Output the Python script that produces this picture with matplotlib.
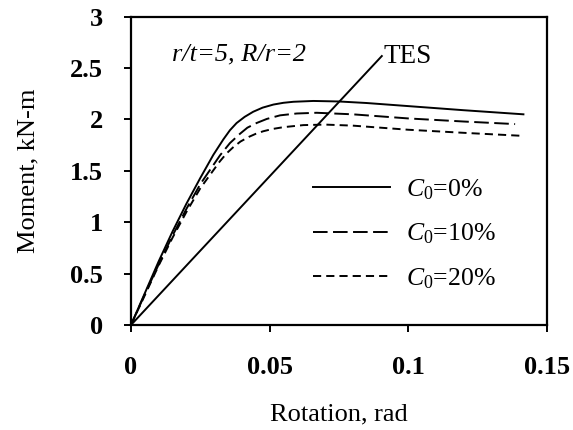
import matplotlib
matplotlib.use('Agg')
import matplotlib.pyplot as plt

plt.rcParams['font.family'] = 'Liberation Serif'
plt.rcParams['mathtext.fontset'] = 'custom'
plt.rcParams['mathtext.rm'] = 'Liberation Serif'
plt.rcParams['mathtext.it'] = 'Liberation Serif:italic'

# rotation (rad) and moment (kN-m)
rot_0 = [0, 0.005, 0.01, 0.015, 0.02, 0.025, 0.0297, 0.0333, 0.0357, 0.0381, 0.041, 0.0441,
         0.0475, 0.0514, 0.055, 0.0586, 0.0658, 0.075, 0.085, 0.1, 0.12, 0.1416]
mom_0 = [0, 0.31, 0.62, 0.91, 1.18, 1.43, 1.655, 1.805, 1.895, 1.965, 2.025, 2.075,
         2.115, 2.145, 2.162, 2.172, 2.18, 2.175, 2.16, 2.13, 2.09, 2.05]

rot_10 = [0, 0.005, 0.01, 0.015, 0.02, 0.025, 0.0321, 0.0357, 0.0393, 0.042, 0.0453,
          0.049, 0.0538, 0.0598, 0.067, 0.08, 0.1, 0.12, 0.1386]
mom_10 = [0, 0.30, 0.59, 0.87, 1.13, 1.37, 1.65, 1.77, 1.86, 1.92, 1.965,
          2.005, 2.04, 2.058, 2.065, 2.05, 2.01, 1.98, 1.955]

rot_20 = [0, 0.005, 0.01, 0.015, 0.02, 0.025, 0.032, 0.0345, 0.0369, 0.0395, 0.0425,
          0.045, 0.0477, 0.051, 0.055, 0.0622, 0.07, 0.08, 0.1, 0.12, 0.1416]
mom_20 = [0, 0.29, 0.58, 0.85, 1.10, 1.33, 1.59, 1.67, 1.73, 1.785, 1.83,
          1.86, 1.885, 1.907, 1.925, 1.945, 1.95, 1.94, 1.90, 1.87, 1.84]

tes_rot = [0, 0.0905]
tes_mom = [0, 2.617]

labels = ['$\\mathit{C}_\\mathrm{0}$=0%', '$\\mathit{C}_\\mathrm{0}$=10%', '$\\mathit{C}_\\mathrm{0}$=20%']
xticks = [0, 0.05, 0.1, 0.15]
xticklabels = ['0', '0.05', '0.1', '0.15']
yticks = [0, 0.5, 1, 1.5, 2, 2.5, 3]
yticklabels = ['0', '0.5', '1', '1.5', '2', '2.5', '3']

fig = plt.figure(figsize=(5.73, 4.30), dpi=100)
ax = fig.add_axes([0.2286, 0.2442, 0.7255, 0.7170])

lw = 1.4
ax.plot(rot_0, mom_0, color='black', lw=lw, label=labels[0])
ax.plot(rot_10, mom_10, color='black', lw=lw, dashes=(7.5, 2.8), label=labels[1])
ax.plot(rot_20, mom_20, color='black', lw=lw, dashes=(4.2, 2.6), label=labels[2])
ax.plot(tes_rot, tes_mom, color='black', lw=lw)

ax.text(0.0147, 2.63, 'r/t=5, R/r=2', fontsize=19, style='italic', va='center')
ax.text(0.0912, 2.61, 'TES', fontsize=19.5, va='center')

ax.set_xlim(0, 0.15)
ax.set_ylim(0, 3)
ax.set_xticks(xticks)
ax.set_xticklabels(xticklabels, fontsize=19, fontweight='bold')
ax.set_yticks(yticks)
ax.set_yticklabels(yticklabels, fontsize=19, fontweight='bold')
ax.tick_params(direction='out', length=5, width=1.4)
ax.tick_params(axis='x', pad=17)
ax.tick_params(axis='y', pad=15)
for s in ax.spines.values():
    s.set_linewidth(1.6)

ax.set_xlabel('Rotation, rad', fontsize=19, labelpad=18)
ax.set_ylabel('Moment, kN-m', fontsize=19, labelpad=22)

ax.legend(loc='upper left', bbox_to_anchor=(0.438, 0.48), frameon=False,
          fontsize=18.5, handlelength=3.0, handletextpad=0.62, borderpad=0,
          borderaxespad=0, labelspacing=0.78)

fig.savefig('out.png', dpi=100)
